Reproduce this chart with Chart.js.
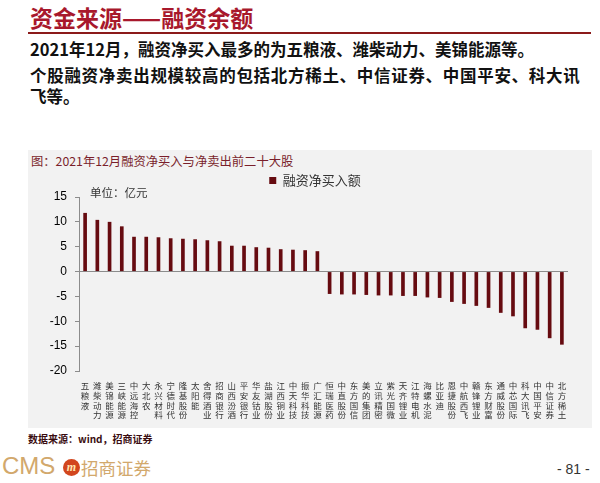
<!DOCTYPE html>
<html>
<head>
<meta charset="utf-8">
<script src="https://cdn.jsdelivr.net/npm/chart.js@4/dist/chart.umd.min.js"></script>
<style>
  body { margin: 0; width: 600px; height: 483px; background: #fff; position: relative; overflow: hidden; font-family: "Noto Sans CJK SC", sans-serif; }
  .abs { position: absolute; white-space: nowrap; }
  #head { left: 30px; top: 0px; font-size: 23px; font-weight: 700; color: #a8182c; }
  #rule { left: 28px; top: 32px; width: 563px; height: 2px; background: #8b1a1a; }
  .para { left: 30px; font-size: 16.5px; font-weight: 700; color: #111; }
  #box { left: 28px; top: 150px; width: 564px; height: 278px; background: #f2f2f2; }
  #ctitle { left: 31px; top: 152px; font-size: 12.3px; color: #7a1f2b; }
  #unit { left: 90px; top: 184px; font-size: 11.5px; color: #333; }
  #src { left: 28px; top: 431px; font-size: 10px; font-weight: 700; color: #3a0d10; }
  #cms { left: 2px; top: 452px; font-size: 24px; color: #d2a86c; font-family: "Liberation Sans", sans-serif; }
  #logo { left: 63px; top: 459px; width: 17px; height: 17px; border-radius: 50%; background: #d2461e; color: #ffe7b0; font-size: 12px; font-style: italic; font-weight: 700; text-align: center; line-height: 16px; font-family: "Liberation Serif", serif; }
  #cmsname { left: 81px; top: 455px; font-size: 17.5px; color: #d2a86c; }
  #page { left: 557px; top: 461px; font-size: 14px; color: #333; font-family: "Liberation Sans", sans-serif; }
  #wrap { left: 28px; top: 170px; width: 564px; height: 258px; }
</style>
</head>
<body>
<div class="abs" id="head">资金来源——融资余额</div>
<div class="abs" id="rule"></div>
<div class="abs para" style="top:37px">2021年12月，融资净买入最多的为五粮液、潍柴动力、美锦能源等。</div>
<div class="abs para" style="top:63px; letter-spacing:0.7px">个股融资净卖出规模较高的包括北方稀土、中信证券、中国平安、科大讯</div>
<div class="abs para" style="top:84px">飞等。</div>

<div class="abs" id="box"></div>
<div class="abs" id="ctitle">图：2021年12月融资净买入与净卖出前二十大股</div>
<div class="abs" id="wrap"><canvas id="netBuyChart" width="564" height="258"></canvas></div>
<div class="abs" id="unit">单位：亿元</div>

<div class="abs" id="src">数据来源：wind，招商证券</div>
<div class="abs" id="cms">CMS</div>
<div class="abs" id="logo">m</div>
<div class="abs" id="cmsname">招商证券</div>
<div class="abs" id="page">- 81 -</div>

<script>
// Top 20 net buys followed by top 20 net sells, Dec 2021 (亿元)
const stockNames = [
  '五粮液', '潍柴动力', '美锦能源', '三峡能源', '中远海控', '大北农', '永兴材料', '宁德时代', '隆基股份', '太阳能',
  '舍得酒业', '招商银行', '山西汾酒', '平安银行', '华友钴业', '盐湖股份', '江西铜业', '中天科技', '振华科技', '广汇能源',
  '恒瑞医药', '中直股份', '东方国信', '美的集团', '立讯精密', '紫光国微', '天齐锂业', '江特电机', '海螺水泥', '比亚迪',
  '恩捷股份', '中航西飞', '赣锋锂业', '东方财富', '通威股份', '中芯国际', '科大讯飞', '中国平安', '中信证券', '北方稀土'
];
const netBuyValues = [
  11.8, 10.4, 10.0, 9.1, 7.0, 7.0, 6.9, 6.7, 6.6, 6.5,
  6.3, 6.1, 5.2, 5.2, 4.9, 4.8, 4.5, 4.4, 4.3, 4.1,
  -4.5, -4.6, -4.6, -4.7, -4.8, -4.8, -4.9, -4.9, -5.2, -5.3,
  -6.1, -6.5, -6.9, -7.3, -8.3, -9.0, -11.4, -11.7, -13.4, -14.7
];
const seriesLabel = '融资净买入额';
const yMin = -20;
const yMax = 15;
const yStep = 5;

const axisGray = '#8c8c8c';
const legendShift = 17; // legend sits a bit right of centre in the original

// one character per line so the names stand upright
const stackedLabels = stockNames.map(name => Array.from(name));

const shiftLegend = {
  id: 'shiftLegend',
  afterLayout(chart) {
    if (!chart.legend) return;
    chart.legend.left += legendShift;
    chart.legend.right += legendShift;
  }
};

const ctx = document.getElementById('netBuyChart');
new Chart(ctx, {
  type: 'bar',
  data: {
    labels: stackedLabels,
    datasets: [{
      label: seriesLabel,
      data: netBuyValues,
      backgroundColor: '#660b10',
      borderWidth: 0,
      barPercentage: 1,
      categoryPercentage: 0.3
    }]
  },
  options: {
    responsive: false,
    devicePixelRatio: 1,
    animation: false,
    layout: { padding: { left: 0, right: 24, top: 0, bottom: 0 } },
    plugins: {
      legend: {
        position: 'top',
        labels: {
          boxWidth: 7,
          boxHeight: 7,
          padding: 4,
          color: '#333',
          font: { family: 'Noto Sans CJK SC', size: 13 }
        }
      },
      tooltip: { enabled: false }
    },
    scales: {
      x: {
        grid: { display: false },
        border: { display: false },
        ticks: {
          autoSkip: false,
          maxRotation: 0,
          minRotation: 0,
          padding: 2,
          color: '#333',
          font: { family: 'Noto Sans CJK SC', size: 8.5, lineHeight: 1.15 }
        },
        afterFit: scale => { scale.height = 57; }
      },
      y: {
        min: yMin,
        max: yMax,
        border: { color: axisGray },
        grid: {
          color: c => (c.tick && c.tick.value === 0) ? axisGray : 'rgba(0,0,0,0)',
          tickColor: axisGray,
          tickLength: 4
        },
        ticks: {
          stepSize: yStep,
          padding: 8,
          color: '#000',
          font: { family: 'Liberation Sans', size: 12 }
        },
        afterFit: scale => { scale.width = 51; }
      }
    }
  },
  plugins: [shiftLegend]
});
</script>
</body>
</html>
